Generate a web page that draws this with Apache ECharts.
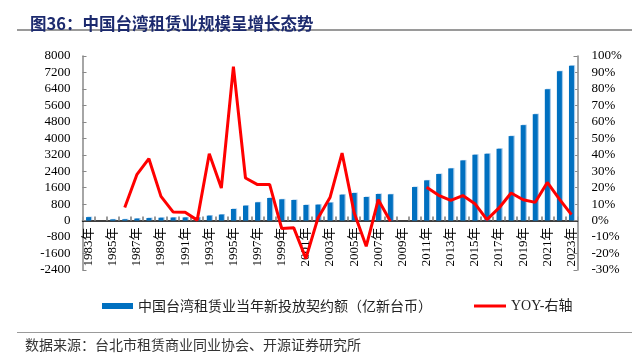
<!DOCTYPE html>
<html>
<head>
<meta charset="utf-8">
<script src="https://cdn.jsdelivr.net/npm/echarts@6/dist/echarts.min.js"></script>
<style>
html,body{margin:0;padding:0;background:#fff;}
#chart{width:643px;height:356px;}
</style>
</head>
<body>
<div id="chart"></div>
<script>
// ---- data ----
const years = [1983,1984,1985,1986,1987,1988,1989,1990,1991,1992,1993,1994,1995,1996,1997,1998,1999,2000,2001,2002,2003,2004,2005,2006,2007,2008,2009,2010,2011,2012,2013,2014,2015,2016,2017,2018,2019,2020,2021,2022,2023];
const categories = years.map(y => y + '年');
const newContracts = [170,null,60,65,100,125,140,150,155,150,242,295,566,727,889,1100,1035,1003,760,776,873,1261,1341,1147,1293,1277,null,1632,1955,2264,2537,2925,3200,3248,3491,4107,4640,5172,6384,7257,7530];
const yoy = [null,null,null,8,27.9,37.6,14.7,5.3,5.1,0.3,40.6,19.8,93.5,25.9,21.9,22,-4.8,-4.4,-23,1.5,14,41,4.8,-15.6,12.7,-0.4,null,null,20.2,15.4,12.3,15.2,10.3,0.6,7.7,16.8,12.7,11.1,23.2,13.1,3.6];
const barName = '中国台湾租赁业当年新投放契约额（亿新台币）';
const lineName = 'YOY-右轴';
const titleText = '图36：中国台湾租赁业规模呈增长态势';
const sourceText = '数据来源：台北市租赁商业同业协会、开源证券研究所';
const leftMin = -2400, leftMax = 8000, leftStep = 800;
const rightMin = -30, rightMax = 100, rightStep = 10;

const serif = '"Liberation Serif","Times New Roman","Noto Sans CJK SC",serif';
const cjk = '"Noto Sans CJK SC",sans-serif';

const gridTop = 56, gridBottom = 86, H = 356;
const plotH = H - gridTop - gridBottom;
// move the category axis up to the zero line of the left axis
const zeroOffset = -plotH * (0 - leftMin) / (leftMax - leftMin);

const chart = echarts.init(document.getElementById('chart'), null, {renderer:'canvas'});
chart.setOption({
  backgroundColor:'#fff',
  animation:false,
  title:{
    text: titleText, left: 25, top: 10,
    textStyle:{fontSize:16.5, fontWeight:'bold', color:'#1c2a6e', fontFamily:cjk}
  },
  graphic:[
    {type:'rect', shape:{x:17,y:29,width:615,height:2}, style:{fill:'#9a9a9a'}},
    {type:'rect', shape:{x:17,y:332,width:615,height:1}, style:{fill:'#9a9a9a'}},
    {type:'text', left:25, top:338, style:{text:sourceText, font:'14px "Noto Sans CJK SC"', fill:'#333'}}
  ],
  legend:[
    {data:[{name:barName}], left:97, top:294, itemWidth:31, itemHeight:6, itemGap:10,
     icon:'rect', textStyle:{fontSize:14, fontFamily:cjk, color:'#222'}},
    {data:[{name:lineName}], left:469, top:294, itemWidth:32, itemHeight:3,
     icon:'rect', textStyle:{fontSize:14, fontFamily:serif, color:'#222'}}
  ],
  grid:{left:82.5, right:65.5, top:gridTop, bottom:gridBottom, containLabel:false},
  xAxis:{
    type:'category', data:categories, boundaryGap:true, offset: zeroOffset,
    axisLine:{onZero:false, lineStyle:{color:'#000', width:1.5}},
    axisTick:{show:true, inside:true, length:4, interval:0, lineStyle:{color:'#999', width:2}},
    axisLabel:{rotate:90, interval:1, fontSize:13, fontFamily:serif, color:'#000', margin:7}
  },
  yAxis:[
    {type:'value', min:leftMin, max:leftMax, interval:leftStep, position:'left',
     axisLine:{show:true, lineStyle:{color:'#888', width:1.5}},
     axisTick:{show:true, inside:true, length:4, lineStyle:{color:'#888'}},
     splitLine:{show:false},
     axisLabel:{fontSize:13, fontFamily:serif, color:'#000', margin:12, formatter: v => String(v)}},
    {type:'value', min:rightMin, max:rightMax, interval:rightStep, position:'right',
     axisLine:{show:true, lineStyle:{color:'#888', width:1.5}},
     axisTick:{show:true, inside:true, length:4, lineStyle:{color:'#888'}},
     splitLine:{show:false},
     axisLabel:{fontSize:13, fontFamily:serif, color:'#000', margin:14, formatter:'{value}%'}}
  ],
  series:[
    {name:barName, type:'bar', data:newContracts, barWidth:5, yAxisIndex:0,
     itemStyle:{color:'#0070C0', shadowColor:'#a8cbea', shadowOffsetX:1.2, shadowOffsetY:-0.5, shadowBlur:0}},
    {name:lineName, type:'line', data:yoy, yAxisIndex:1, symbol:'none', connectNulls:false,
     itemStyle:{color:'#FF0000'}, lineStyle:{color:'#FF0000', width:3}}
  ]
});
</script>
</body>
</html>
